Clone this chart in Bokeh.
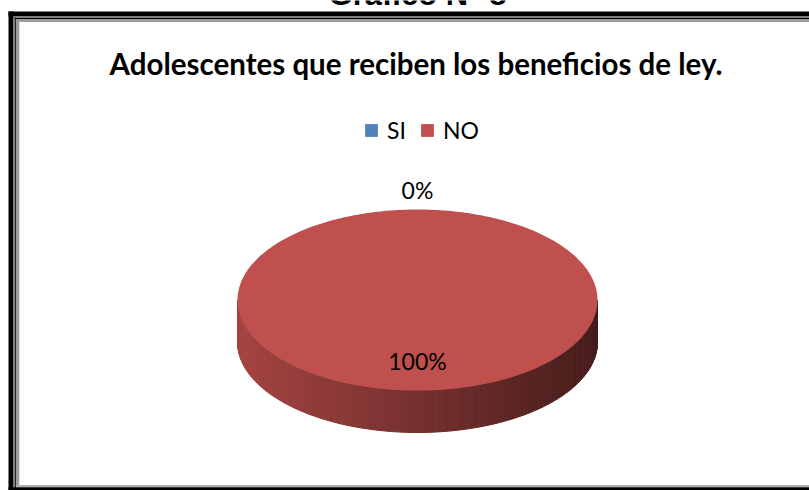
import numpy as np
from bokeh.plotting import figure
from bokeh.models import Range1d, Legend, LegendItem, ColumnDataSource
from bokeh.core.properties import value
from bokeh.embed import file_html
from bokeh.resources import INLINE

# ---- data ----
HEADER = "Gráfico N° 8"
TITLE = "Adolescentes que reciben los beneficios de ley."
categories = ["SI", "NO"]
values = [0, 100]
colors = ["#4F81BD", "#C0504D"]

# ---- layout (pixel-like coordinates, y downward) ----
W, H = 809, 490
CX, CY, RX, RY, DEPTH = 417, 299.5, 180, 90.5, 42

p = figure(width=W, height=H, output_backend="svg", toolbar_location=None,
           x_range=Range1d(0, W), y_range=Range1d(H, 0),
           x_axis_type=None, y_axis_type=None, min_border=0)
p.outline_line_color = None
p.grid.visible = False
p.background_fill_color = "white"
p.border_fill_color = "white"

# cut-off header above the frame (as in the source page)
p.text(x=[417], y=[-6], text=[HEADER], text_font=value("Liberation Sans"),
       text_font_style="bold", text_font_size="31px", text_align="center",
       text_baseline="middle", text_color="#000000")


def band(l, r, t, b, color):
    p.quad(left=l, right=r, top=t, bottom=b, fill_color=color, line_color=None)


# double frame with inner grey shadow
band(0, W, 11, 16, "white")
band(8, W, 11, 16, "black")
band(8, 13, 11, H, "black")
band(14, W, 17, 18.6, "black")
band(14, 15.4, 17, H, "black")
band(15.4, W, 18.6, 21.4, "#9c9c9c")
band(15.4, 18.8, 18.6, 485, "#9c9c9c")
band(15.4, W, 484.6, 486.7, "#b0b0b0")
band(8, W, 486.7, H, "black")

# title
p.text(x=[415.5], y=[63], text=[TITLE], text_font=value("Lato"),
       text_font_style="bold", text_font_size="29.5px", text_align="center",
       text_baseline="middle", text_color="#000000")


def pt(t, dy=0.0):
    return CX + RX * np.sin(t), CY - RY * np.cos(t) + dy


def shade(hexcol, f):
    h = hexcol.lstrip("#")
    r, g, b = (int(h[i:i + 2], 16) for i in (0, 2, 4))
    return "#%02x%02x%02x" % (int(r * f), int(g * f), int(b * f))


total = float(sum(values))
fracs = [v / total for v in values]

# side (visible front half) with horizontal gradient
side_xs, side_ys, side_cols = [], [], []
start = 0.0
for frac, col in zip(fracs, colors):
    a0, a1 = start * 2 * np.pi, (start + frac) * 2 * np.pi
    lo, hi = max(a0, np.pi / 2), min(a1, 3 * np.pi / 2)
    if hi > lo:
        n = max(2, int(160 * (hi - lo) / np.pi))
        ts = np.linspace(lo, hi, n + 1)
        for k in range(n):
            x1, y1 = pt(ts[k])
            x2, y2 = pt(ts[k + 1])
            xm = 0.5 * (x1 + x2)
            pos = (xm - (CX - RX)) / (2 * RX)
            f = 0.86 - (0.86 - 0.37) * pos
            side_xs.append([x1, x2, x2, x1])
            side_ys.append([y1, y2, y2 + DEPTH, y1 + DEPTH])
            side_cols.append(shade(col, f))
    start += frac
p.patches(xs=side_xs, ys=side_ys, fill_color=side_cols, line_color=side_cols,
          line_width=1)

# top faces, one renderer per category
legend_items = []
start = 0.0
for cat, frac, col in zip(categories, fracs, colors):
    a0, a1 = start * 2 * np.pi, (start + frac) * 2 * np.pi
    ts = np.linspace(a0, a1, max(3, int(400 * frac)))
    xs_, ys_ = pt(ts)
    src = ColumnDataSource(dict(xs=[[CX] + list(xs_)], ys=[[CY] + list(ys_)]))
    r = p.patches(xs="xs", ys="ys", source=src, fill_color=col, line_color=None)
    legend_items.append(LegendItem(label=cat, renderers=[r]))
    start += frac

# data labels
lab_x, lab_y, lab_t = [], [], []
start = 0.0
for v, frac in zip(values, fracs):
    m = (start + frac / 2) * 2 * np.pi
    k = 1.21 if frac < 0.05 else 0.67
    lab_x.append(CX + k * RX * np.sin(m))
    lab_y.append(CY - k * RY * np.cos(m))
    lab_t.append("%d%%" % round(frac * 100))
    start += frac
p.text(x=lab_x, y=lab_y, text=lab_t, text_font=value("Lato"),
       text_font_size="23px", text_align="center", text_baseline="middle",
       text_color="#000000")

legend = Legend(items=legend_items, orientation="horizontal", location=(363, 346),
                glyph_width=16, glyph_height=16, label_standoff=8, spacing=12,
                padding=0, margin=0, border_line_color=None,
                background_fill_alpha=0, label_text_font="Lato",
                label_text_font_size="23px", label_text_color="#000000")
p.add_layout(legend)

open("out.html", "w").write(file_html(p, INLINE))
